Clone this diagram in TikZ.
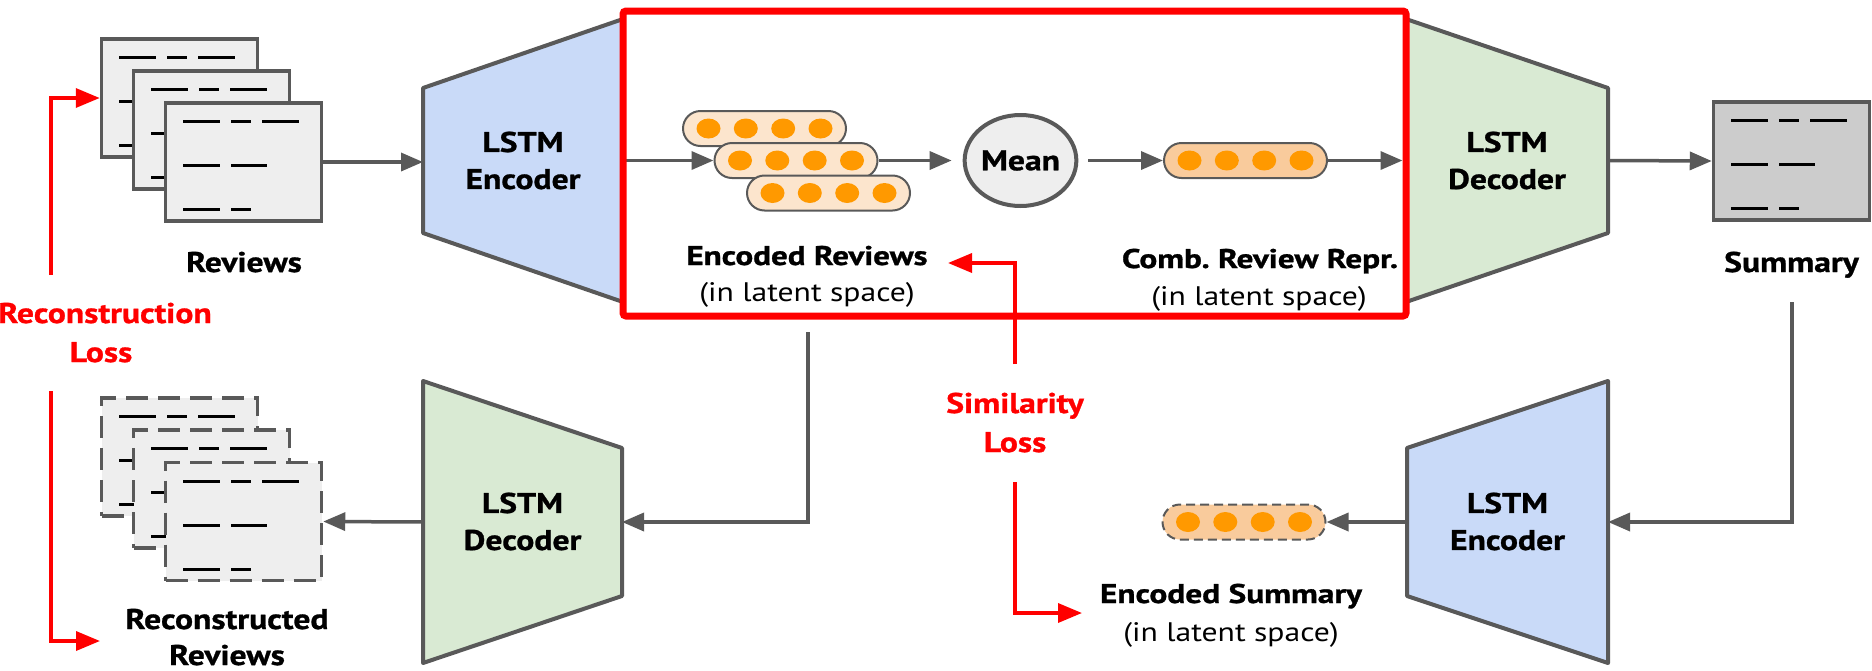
\documentclass[tikz,border=0pt]{standalone}
\usepackage{graphicx}
\usepackage{fontspec}
\setmainfont{PT Sans}[FakeStretch=1.18, BoldFeatures={FakeBold=1}]
\usetikzlibrary{arrows.meta,shapes.geometric,shapes.misc}

\definecolor{gline}{HTML}{595959}
\definecolor{pagefill}{HTML}{EEEEEE}
\definecolor{sumfill}{HTML}{CCCCCC}
\definecolor{encfill}{HTML}{C9DAF8}
\definecolor{decfill}{HTML}{D9EAD3}
\definecolor{pilllight}{HTML}{FCE5CD}
\definecolor{pilldark}{HTML}{F9CB9C}
\definecolor{dotfill}{HTML}{FF9900}
\definecolor{lossred}{HTML}{FF0000}

\newcommand\fbig{\fontsize{28.5pt}{37pt}\selectfont\bfseries}
\newcommand\fmid{\fontsize{27pt}{34pt}\selectfont\bfseries}
\newcommand\freg{\fontsize{26.8pt}{34pt}\selectfont}
% set a caption to a given width, keeping its height
\newcommand\fitw[2]{\resizebox{#1}{\height}{#2}}

\tikzset{
  conn/.style={draw=gline, line width=3.5pt, -{Triangle[length=22pt,width=18pt]}},
  lossarrow/.style={draw=lossred, line width=3.5pt, -{Triangle[length=24pt,width=19pt]}},
  docpage/.style={draw=gline, line width=3.5pt, fill=pagefill, minimum width=156pt,
    minimum height=118pt, inner sep=0pt},
  ghostpage/.style={docpage, dash pattern=on 22pt off 10pt},
  textline/.style={draw=black, line width=3pt},
  trap/.style={draw=gline, line width=4pt, line join=round},
  vec/.style={rounded rectangle, draw=gline, line width=2pt, minimum width=163pt,
    minimum height=35pt, inner sep=0pt},
  dot/.style={ellipse, fill=dotfill, minimum width=24pt, minimum height=20pt, inner sep=0pt},
  lbl/.style={anchor=base, inner sep=0pt, font=\fbig},
  blocktext/.style={align=center, inner sep=0pt, font=\fbig},
}

% three rows of dashes standing for the words of a document
\newcommand\pagelines[1]{%
  \draw[textline]
    ([shift={(-60.5,-40.5)}]#1.center) -- ++(37,0)
    ([shift={(-12.5,-40.5)}]#1.center) -- ++(20,0)
    ([shift={(18.5,-40.5)}]#1.center) -- ++(37,0)
    ([shift={(-60.5,3.5)}]#1.center) -- ++(37,0)
    ([shift={(-12.5,3.5)}]#1.center) -- ++(36,0)
    ([shift={(-60.5,47.5)}]#1.center) -- ++(37,0)
    ([shift={(-12.5,47.5)}]#1.center) -- ++(20,0);
}

% a latent vector: rounded bar holding four orange units
\newcommand\latentvec[3]{%
  \node[vec, #3] (#1) at (#2) {};
  \foreach \dx [count=\k] in {-56,-18.7,18.7,56}
    \node[dot] (#1-d\k) at ([xshift=\dx pt]#1.center) {};
}

\begin{document}
\begin{tikzpicture}[x=1pt, y=-1pt]
\useasboundingbox (0,0) rectangle (1872,670);

% ---------- input reviews ----------
\node[docpage] (rv1) at (179.5,98) {};    \pagelines{rv1}
\node[docpage] (rv2) at (211.5,130) {};   \pagelines{rv2}
\node[docpage] (rv3) at (243.5,162) {};   \pagelines{rv3}
\node[lbl] (rvlbl) at (244,272) {Reviews};

% ---------- reconstructed reviews ----------
\node[ghostpage] (rc1) at (179.5,457) {};   \pagelines{rc1}
\node[ghostpage] (rc2) at (211.5,489) {};   \pagelines{rc2}
\node[ghostpage] (rc3) at (243.5,521.5) {}; \pagelines{rc3}
\node[lbl] (rclbl) at (227,629) {Reconstructed};
\node[lbl] (rclbl2) at (227,665) {Reviews};

% ---------- summary ----------
\node[docpage, fill=sumfill] (sum) at (1791.5,161) {}; \pagelines{sum}
\node[lbl] (sumlbl) at (1791.5,272) {Summary};

% ---------- LSTM blocks ----------
\draw[trap, fill=encfill] (423,88) -- (623,19) -- (623,302) -- (423,233) -- cycle;
\coordinate (enc1-in) at (423,160.5);
\coordinate (enc1-out) at (623,160.5);
\node[blocktext] (enc1) at (523,160.5) {LSTM\\Encoder};

\draw[trap, fill=decfill] (1406,19) -- (1608,88) -- (1608,233) -- (1406,302) -- cycle;
\coordinate (dec1-in) at (1406,160.5);
\coordinate (dec1-out) at (1608,160.5);
\node[blocktext] (dec1) at (1507,160.5) {LSTM\\Decoder};

\draw[trap, fill=decfill] (423,381) -- (622,448) -- (622,596) -- (423,663) -- cycle;
\coordinate (dec2-in) at (622,522);
\coordinate (dec2-out) at (423,522);
\node[blocktext] (dec2) at (522.5,521.5) {LSTM\\Decoder};

\draw[trap, fill=encfill] (1407,448) -- (1608,381) -- (1608,663) -- (1407,596) -- cycle;
\coordinate (enc2-in) at (1608,522);
\coordinate (enc2-out) at (1407,522);
\node[blocktext] (enc2) at (1507.5,521.5) {LSTM\\Encoder};

% ---------- latent space ----------
\latentvec{er1}{764.5,128.5}{fill=pilllight}
\latentvec{er2}{796,160.5}{fill=pilllight}
\latentvec{er3}{828.5,193}{fill=pilllight}
\node[lbl, font=\fmid] (erlbl) at (807,265) {\fitw{241pt}{Encoded Reviews}};
\node[lbl, font=\freg] (erlbl2) at (807,301) {(in latent space)};

\node[ellipse, draw=gline, line width=4pt, fill=pagefill, minimum width=101pt,
  minimum height=91pt, inner sep=0pt, font=\fbig] (mean) at (1020.5,160.5) {Mean};

\latentvec{comb}{1245.5,160.5}{fill=pilldark}
\node[lbl, font=\fmid] (cblbl) at (1260,268) {\fitw{276pt}{Comb.\ Review Repr.}};
\node[lbl, font=\freg] (cblbl2) at (1259,305) {(in latent space)};

\latentvec{esv}{1244,522}{fill=pilldark, dash pattern=on 9pt off 5pt}
\node[lbl, font=\fmid] (eslbl) at (1231,603) {\fitw{262pt}{Encoded Summary}};
\node[lbl, font=\freg] (eslbl2) at (1231,641.5) {(in latent space)};

% ---------- data flow ----------
\draw[conn] (rv3.east) -- (rv3.east -| enc1-in);
\draw[conn] (enc1-out) -- (er2.west);
\draw[conn, shorten >=11pt] (er2.east) -- (mean.west);
\draw[conn, shorten <=10pt] (mean.east) -- (comb.west);
\draw[conn, shorten >=3.5pt] (comb.east) -- (dec1-in);
\draw[conn] (dec1-out) -- (sum.west);
\coordinate (sum-drop) at (1792,302);
\draw[conn] (sum-drop) |- (enc2-in);
\draw[conn] (enc2-out) -- (esv.east);
\coordinate (er-drop) at (808,332);
\draw[conn] (er-drop) |- (dec2-in);
\draw[conn] (dec2-out) -- (rc3.east);

% ---------- latent frame ----------
\node[draw=lossred, line width=7pt, rounded corners=3pt, minimum width=783pt,
  minimum height=305pt, inner sep=0pt] (latent) at (1014.5,163.5) {};

% ---------- losses ----------
\node[lbl, text=lossred] (simlbl) at (1015,413) {Similarity};
\node[lbl, text=lossred] (simlbl2) at (1015,452) {Loss};
\coordinate (sl-top) at (1015,364);
\coordinate (sl-up) at (948,263);
\draw[lossarrow] (sl-top) |- (sl-up);
\coordinate (sl-bot) at (1015,482);
\coordinate (sl-down) at (1082,613);
\draw[lossarrow] (sl-bot) |- (sl-down);

\node[lbl, text=lossred] (reclbl) at (105,323) {Reconstruction};
\node[lbl, text=lossred] (reclbl2) at (101,362) {Loss};
\coordinate (rl-top) at (51,275);
\draw[lossarrow] (rl-top) |- (rv1.west);
\coordinate (rl-bot) at (51,391);
\coordinate (rl-end) at (100,641);
\draw[lossarrow] (rl-bot) |- (rl-end);
\end{tikzpicture}
\end{document}
